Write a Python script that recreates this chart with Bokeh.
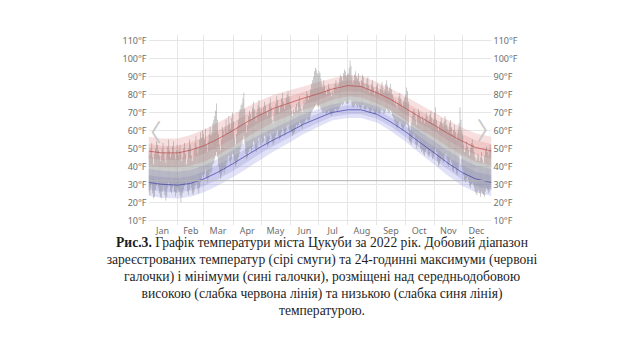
from bokeh.plotting import figure
from bokeh.models import (Range1d, FixedTicker, PrintfTickFormatter, LinearAxis,
                          Span, Label, Div, ColumnDataSource)
from bokeh.layouts import column
from bokeh.embed import file_html
from bokeh.resources import INLINE

# ---------------- data ----------------
month_names = ["Jan", "Feb", "Mar", "Apr", "May", "Jun",
               "Jul", "Aug", "Sep", "Oct", "Nov", "Dec"]
month_lengths = [31, 28, 31, 30, 31, 30, 31, 31, 30, 31, 30, 31]
y_ticks = [10, 20, 30, 40, 50, 60, 70, 80, 90, 100, 110]
freezing_f = 32

# smoothed climatology (semi-monthly points, day of year)
band_days = [0, 14, 31, 45, 59, 73, 90, 104, 120, 134, 151, 165, 181, 195,
             212, 226, 243, 257, 273, 287, 304, 318, 334, 348, 365]
avg_high = [48.5, 47.5, 47.5, 49, 51.5, 55, 60, 64.5, 69, 72.5, 75.5, 78,
            80.5, 83, 85, 84.5, 81, 77.5, 72.5, 68, 63, 58.5, 54, 50.5, 48.5]
avg_low = [31, 30, 29.5, 30.5, 33, 36.5, 41.5, 46, 51, 55, 59.5, 63.5,
           67, 70, 71.5, 71.5, 69, 65, 59.5, 54, 47.5, 42, 36.5, 33, 31]
high_spread_90 = [8, 8, 8, 8.5, 9, 9, 9, 8.5, 8, 7.5, 7, 6.5, 6.5, 6, 6, 6,
                  6, 6, 6.5, 7, 7, 7.5, 7.5, 8, 8]
high_spread_75 = [4, 4, 4, 4.5, 4.5, 4.5, 4.5, 4.5, 4, 4, 3.5, 3.5, 3.5, 3,
                  3, 3, 3, 3, 3.5, 3.5, 3.5, 4, 4, 4, 4]
low_spread_90 = [7.5, 7.5, 7.5, 7.5, 7.5, 7.5, 7.5, 7.5, 7, 6.5, 6, 5.5, 5,
                 4.5, 4.5, 4.5, 4.5, 5, 5.5, 6, 6.5, 7, 7.5, 7.5, 7.5]
low_spread_75 = [4, 4, 4, 4, 4, 4, 4, 4, 3.5, 3.5, 3, 3, 2.5, 2.5, 2.5, 2.5,
                 2.5, 2.5, 3, 3, 3.5, 3.5, 4, 4, 4]

# daily observed max / min, 2022
daily_max = [
    48, 46, 50, 53, 45, 41, 47, 50, 54, 52, 49, 46, 43, 46, 50, 53, 48, 44, 42, 47, 51, 55, 49, 45, 47, 51, 54, 47, 44, 49, 52,
    46, 49, 52, 48, 43, 45, 50, 53, 47, 41, 44, 50, 55, 52, 46, 43, 45, 49, 53, 57, 51, 47, 50, 55, 59, 56, 60, 58,
    55, 61, 52, 48, 54, 58, 62, 57, 59, 64, 66, 68, 71, 75, 66, 58, 52, 49, 55, 62, 60, 57, 62, 66, 59, 63, 68, 64, 61, 67, 70,
    65, 56, 52, 58, 62, 66, 70, 72, 74, 75, 78, 81, 72, 64, 59, 63, 68, 71, 69, 66, 73, 76, 72, 68, 65, 70, 74, 77, 73, 70,
    72, 69, 73, 76, 74, 70, 68, 71, 75, 78, 73, 66, 64, 69, 72, 75, 79, 77, 73, 70, 74, 78, 81, 76, 72, 74, 78, 80, 82, 79, 76,
    74, 71, 68, 72, 70, 73, 75, 71, 76, 79, 74, 72, 70, 74, 77, 75, 78, 82, 80, 77, 79, 83, 86, 88, 90, 93, 95, 94, 92, 91,
    93, 92, 89, 86, 84, 88, 85, 82, 80, 83, 86, 84, 81, 79, 82, 80, 84, 86, 88, 85, 83, 86, 89, 91, 90, 88, 92, 94, 93, 90, 91,
    92, 95, 99, 96, 90, 86, 88, 91, 93, 90, 89, 92, 87, 85, 88, 91, 90, 86, 83, 86, 89, 90, 85, 81, 83, 86, 88, 84, 80, 82, 85,
    86, 82, 80, 83, 85, 87, 84, 81, 83, 86, 88, 85, 82, 84, 86, 83, 80, 78, 75, 77, 74, 72, 76, 79, 81, 78, 75, 73, 76, 78,
    80, 84, 82, 76, 62, 60, 64, 68, 71, 72, 70, 66, 63, 68, 72, 70, 67, 65, 68, 66, 64, 67, 70, 68, 65, 66, 69, 71, 67, 64, 66,
    70, 73, 66, 62, 60, 63, 65, 67, 64, 62, 65, 68, 66, 63, 61, 60, 64, 66, 62, 58, 60, 63, 59, 55, 58, 61, 64, 73, 66, 60,
    57, 52, 48, 50, 54, 51, 49, 46, 50, 53, 55, 52, 48, 45, 43, 44, 47, 46, 43, 45, 48, 44, 42, 46, 49, 51, 48, 46, 49, 52, 50,
]
daily_min = [
    26, 24, 28, 30, 25, 22, 23, 27, 29, 31, 28, 25, 23, 22, 26, 29, 27, 24, 21, 23, 28, 31, 29, 26, 25, 28, 30, 26, 23, 25, 28,
    27, 26, 24, 20, 23, 25, 27, 29, 30, 31, 26, 24, 27, 31, 28, 25, 24, 26, 29, 32, 30, 27, 25, 28, 31, 33, 35, 34,
    36, 38, 34, 31, 33, 35, 37, 36, 38, 41, 42, 44, 46, 48, 45, 40, 36, 33, 35, 37, 39, 36, 38, 40, 42, 44, 46, 43, 41, 44, 47,
    46, 43, 40, 41, 43, 45, 47, 49, 51, 52, 55, 57, 53, 47, 44, 45, 48, 50, 50, 48, 51, 54, 53, 50, 48, 50, 53, 56, 54, 52,
    55, 53, 54, 57, 56, 53, 51, 52, 55, 58, 57, 54, 52, 53, 55, 57, 59, 60, 57, 55, 56, 59, 61, 60, 57, 58, 60, 62, 63, 61, 60,
    60, 59, 57, 58, 59, 61, 63, 62, 63, 65, 64, 62, 61, 63, 64, 65, 66, 67, 66, 65, 66, 68, 70, 71, 72, 73, 74, 75, 74, 73,
    74, 73, 72, 71, 70, 70, 71, 70, 69, 70, 71, 70, 69, 68, 69, 70, 71, 72, 72, 71, 71, 72, 73, 74, 75, 74, 75, 76, 76, 75, 75,
    75, 76, 77, 76, 74, 73, 73, 74, 75, 74, 73, 74, 73, 72, 73, 74, 74, 72, 71, 72, 73, 73, 72, 70, 70, 71, 72, 71, 69, 69, 70,
    71, 70, 69, 70, 71, 72, 71, 69, 70, 71, 72, 71, 70, 70, 71, 70, 68, 67, 65, 64, 63, 61, 62, 64, 65, 64, 62, 60, 61, 62,
    63, 64, 63, 60, 54, 53, 52, 55, 57, 58, 56, 52, 50, 52, 55, 53, 50, 48, 49, 47, 46, 48, 50, 49, 46, 45, 47, 49, 47, 44, 45,
    47, 50, 48, 43, 40, 41, 43, 45, 44, 42, 43, 46, 47, 44, 41, 40, 42, 44, 42, 38, 37, 40, 39, 36, 35, 38, 41, 46, 45, 40,
    38, 35, 32, 31, 33, 34, 32, 29, 28, 30, 31, 30, 28, 26, 25, 24, 26, 27, 25, 23, 26, 25, 24, 23, 26, 28, 27, 25, 26, 28, 27,
]

caption_html = ("<b>Рис.3.</b> Графік температури міста Цукуби за 2022 рік. Добовий діапазон<br>"
                "зареєстрованих температур (сірі смуги) та 24-годинні максимуми (червоні<br>"
                "галочки) і мінімуми (сині галочки), розміщені над середньодобовою<br>"
                "високою (слабка червона лінія) та низькою (слабка синя лінія)<br>"
                "температурою.")

# ---------------- derived ----------------
month_starts = [0]
for m in month_lengths:
    month_starts.append(month_starts[-1] + m)
month_mids = [int(s + l / 2) for s, l in zip(month_starts[:-1], month_lengths)]
days = [i + 0.5 for i in range(len(daily_max))]

band = ColumnDataSource(dict(
    x=band_days, hi=avg_high, lo=avg_low,
    hi90=[a + s for a, s in zip(avg_high, high_spread_90)],
    hi10=[a - s for a, s in zip(avg_high, high_spread_90)],
    hi75=[a + s for a, s in zip(avg_high, high_spread_75)],
    hi25=[a - s for a, s in zip(avg_high, high_spread_75)],
    lo90=[a + s for a, s in zip(avg_low, low_spread_90)],
    lo10=[a - s for a, s in zip(avg_low, low_spread_90)],
    lo75=[a + s for a, s in zip(avg_low, low_spread_75)],
    lo25=[a - s for a, s in zip(avg_low, low_spread_75)],
))
daily = ColumnDataSource(dict(x=days, top=daily_max, bottom=daily_min))

# ---------------- figure ----------------
p = figure(width=640, frame_width=343, frame_height=191,
           output_backend="svg", toolbar_location=None,
           x_range=Range1d(0, 365), y_range=Range1d(7, 113.5),
           min_border_left=148, min_border_right=149, min_border_top=34,
           min_border_bottom=6)
p.outline_line_color = None
p.background_fill_color = "white"
p.border_fill_color = "white"

# bands
p.varea(x="x", y1="hi10", y2="hi90", source=band, fill_color="#e58080", fill_alpha=0.25)
p.varea(x="x", y1="hi25", y2="hi75", source=band, fill_color="#d87070", fill_alpha=0.2)
p.varea(x="x", y1="lo10", y2="lo90", source=band, fill_color="#8080dc", fill_alpha=0.24)
p.varea(x="x", y1="lo25", y2="lo75", source=band, fill_color="#7070cc", fill_alpha=0.2)

# daily bars
p.vbar(x="x", top="top", bottom="bottom", width=0.7, source=daily,
       fill_color="#7c7c7c", line_color=None, fill_alpha=0.6)

# average lines
p.line(x="x", y="hi", source=band, line_color="#b85050", line_width=1, line_alpha=0.75)
p.line(x="x", y="lo", source=band, line_color="#4646aa", line_width=1, line_alpha=0.75)

# freezing line
p.add_layout(Span(location=freezing_f, dimension="width", line_color="#b4b4b4", line_width=1))

# grids
p.xgrid.ticker = FixedTicker(ticks=month_starts)
p.xgrid.grid_line_color = "#e6e6e6"
p.ygrid.ticker = FixedTicker(ticks=y_ticks)
p.ygrid.grid_line_color = "#e6e6e6"

# axes
def style_axis(ax):
    ax.axis_line_color = None
    ax.major_tick_line_color = None
    ax.minor_tick_line_color = None
    ax.major_tick_out = 0
    ax.major_tick_in = 0
    ax.major_label_text_font = "Noto Sans"
    ax.major_label_text_font_size = "9px"
    ax.major_label_text_color = "#6e6e6e"

p.xaxis.ticker = FixedTicker(ticks=month_mids)
p.xaxis.major_label_overrides = {m: n for m, n in zip(month_mids, month_names)}
p.xaxis.major_label_standoff = -2
style_axis(p.xaxis[0])

p.yaxis.ticker = FixedTicker(ticks=y_ticks)
p.yaxis.formatter = PrintfTickFormatter(format="%d°F")
p.yaxis.major_label_standoff = 2
style_axis(p.yaxis[0])

right = LinearAxis(ticker=FixedTicker(ticks=y_ticks),
                   formatter=PrintfTickFormatter(format="%d°F"),
                   major_label_standoff=2)
style_axis(right)
p.add_layout(right, "right")

# carousel chevrons
p.add_layout(Label(x=1, y=60, text="〈", text_font="Noto Sans CJK JP", text_font_size="24px",
                   text_color="#c8c8c8", text_align="center", text_baseline="middle"))
p.add_layout(Label(x=362, y=61, text="〉", text_font="Noto Sans CJK JP", text_font_size="24px",
                   text_color="#c8c8c8", text_align="center", text_baseline="middle"))

caption = Div(text=caption_html, width=636, margin=(-4, 0, 0, 4),
              styles={"text-align": "center", "font-family": "Liberation Serif",
                      "font-size": "13.6px", "line-height": "16.9px", "color": "#1e1e1e",
                      "width": "636px"})

layout = column(p, caption, spacing=0)
open("out.html", "w").write(file_html(layout, INLINE))
